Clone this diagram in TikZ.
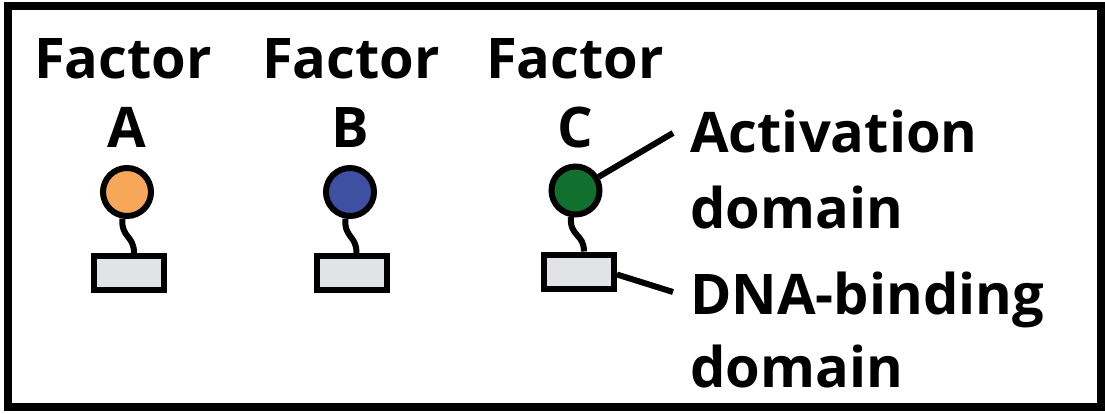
\documentclass[tikz,border=0pt]{standalone}
\usepackage{fontspec}
\setmainfont{Open Sans}[BoldFont={Open Sans Bold}]
\definecolor{facA}{RGB}{246,168,88}
\definecolor{facB}{RGB}{62,80,162}
\definecolor{facC}{RGB}{18,112,46}
\definecolor{boxgray}{RGB}{226,227,231}
\begin{document}
\begin{tikzpicture}[x=1pt,y=-1pt,
  lbl/.style={inner sep=0pt,font=\fontsize{56}{60}\selectfont\bfseries},
  actdom/.style={circle,draw,line width=6pt,minimum size=48pt,inner sep=0pt},
  dnabox/.style={rectangle,draw,line width=6pt,fill=boxgray,minimum width=70pt,minimum height=34pt,inner sep=0pt},
  stem/.style={line width=6pt},
  pointer/.style={line width=6pt}]
\useasboundingbox (0,0) rectangle (1105,413);
\draw[line width=8pt] (7.5,5.5) rectangle (1101,407) ;
% Factor labels
\node[lbl,anchor=base] (fA) at (123,78) {Factor};
\node[lbl,anchor=base] (lA) at (127,147) {A};
\node[lbl,anchor=base] (fB) at (351,78) {Factor};
\node[lbl,anchor=base] (lB) at (350,147) {B};
\node[lbl,anchor=base] (fC) at (575,78) {Factor};
\node[lbl,anchor=base] (lC) at (575,147) {C};
% domains
\node[actdom,fill=facA] (cA) at (127,192) {};
\node[actdom,fill=facB] (cB) at (350,192) {};
\node[actdom,fill=facC] (cC) at (575.5,190.5) {};
\node[dnabox] (rA) at (129,273) {};
\node[dnabox] (rB) at (351.5,273) {};
\node[dnabox] (rC) at (579,271.5) {};
% stems
\foreach \n in {A,B,C}{
  \draw[stem] (c\n.-100) .. controls ++(-1,20) and ++(0,-18) .. ([xshift=5pt]r\n.north);
}
% pointers
\coordinate (actEnd) at (673,133);
\coordinate (dnaEnd) at (673,292);
\draw[pointer] (cC) -- (actEnd);
\draw[pointer] ([yshift=-3pt]rC.east) -- (dnaEnd);
% domain labels
\node[lbl,anchor=base west] (act1) at (690,152) {Activation};
\node[lbl,anchor=base west] (act2) at (690,228) {domain};
\node[lbl,anchor=base west] (dna1) at (690,314) {DNA-binding};
\node[lbl,anchor=base west] (dna2) at (690,387) {domain};
\end{tikzpicture}
\end{document}
